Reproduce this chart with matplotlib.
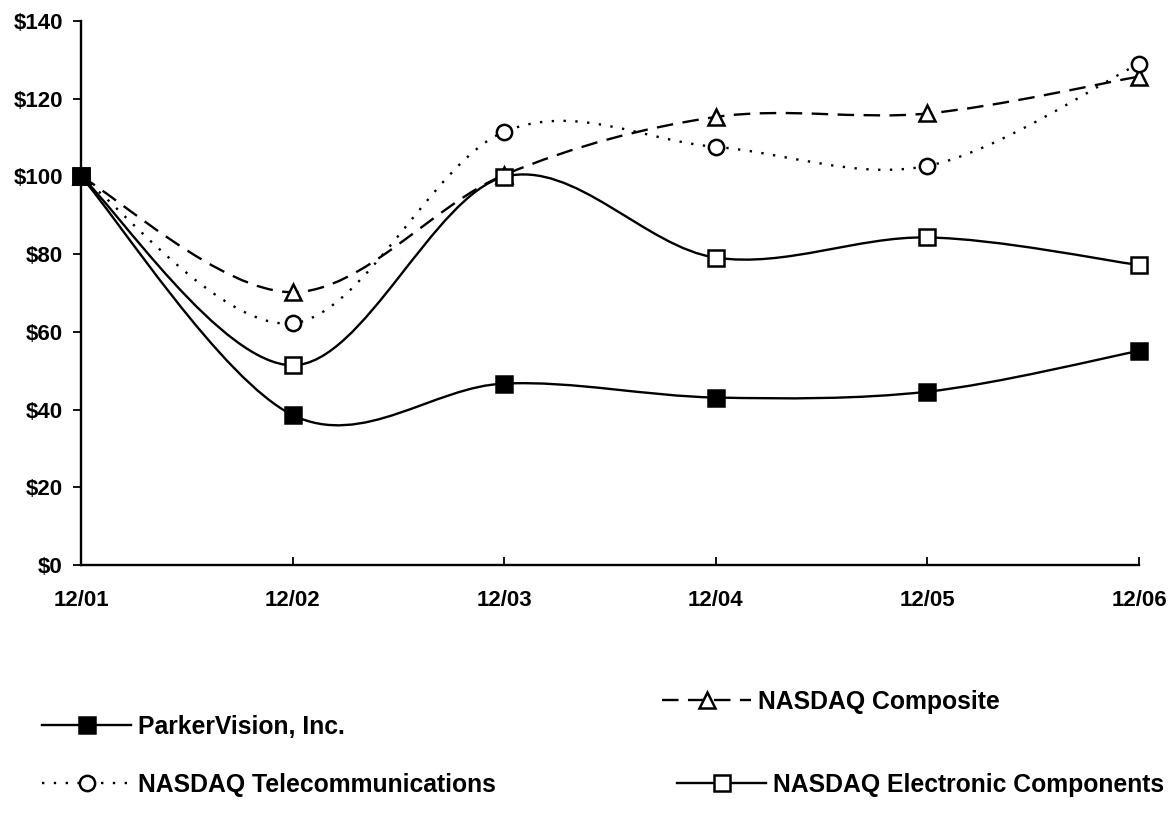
import matplotlib.pyplot as plt
from matplotlib.path import Path
from matplotlib.patches import PathPatch
from matplotlib.lines import Line2D

plt.rcParams['font.family'] = ['Liberation Sans', 'DejaVu Sans']
plt.rcParams['font.weight'] = 'bold'

dates = ['12/01', '12/02', '12/03', '12/04', '12/05', '12/06']
parkervision = [100, 38.6, 46.7, 43.1, 44.6, 55.1]
composite = [100, 70.2, 100.4, 115.3, 116.2, 125.7]
telecom = [100, 62.2, 111.5, 107.6, 102.7, 129.0]
electronic = [100, 51.4, 99.9, 79.1, 84.3, 77.2]
y_ticks = [0, 20, 40, 60, 80, 100, 120, 140]


def smooth_path(xs, ys):
    # catmull-rom -> bezier, like excel's "smoothed line"
    verts = [(xs[0], ys[0])]
    codes = [Path.MOVETO]
    n = len(xs)
    for i in range(n - 1):
        x0, y0 = (xs[i - 1], ys[i - 1]) if i > 0 else (xs[i], ys[i])
        x1, y1 = xs[i], ys[i]
        x2, y2 = xs[i + 1], ys[i + 1]
        x3, y3 = (xs[i + 2], ys[i + 2]) if i + 2 < n else (x2, y2)
        c1 = (x1 + (x2 - x0) / 6, y1 + (y2 - y0) / 6)
        c2 = (x2 - (x3 - x1) / 6, y2 - (y3 - y1) / 6)
        verts += [c1, c2, (x2, y2)]
        codes += [Path.CURVE4] * 3
    return Path(verts, codes)


fig = plt.figure(figsize=(11.71, 8.13), dpi=100)
# axes box: x 81..1139 px, y 21..565 px
ax = fig.add_axes([81 / 1171, 1 - 565 / 813, 1058 / 1171, 544 / 813])

x = list(range(len(dates)))

dash_style = (0, (7, 4))
dot_style = (0, (1, 4))

series = [
    (composite, dash_style, '^', 'white', 11, 'NASDAQ Composite'),
    (telecom, dot_style, 'o', 'white', 11, 'NASDAQ Telecommunications'),
    (electronic, '-', 's', 'white', 11, 'NASDAQ Electronic Components'),
    (parkervision, '-', 's', 'black', 12, 'ParkerVision, Inc.'),
]

handles = {}
for vals, ls, mk, fc, ms, name in series:
    patch = PathPatch(smooth_path(x, vals), fill=False, edgecolor='black',
                      linewidth=1.7, linestyle=ls, zorder=2)
    ax.add_patch(patch)
    ax.plot(x, vals, linestyle='none', marker=mk, markersize=ms,
            markerfacecolor=fc, markeredgecolor='black', markeredgewidth=1.8,
            zorder=3, clip_on=False)
    handles[name] = Line2D([], [], color='black', linewidth=1.7, linestyle=ls,
                           marker=mk, markersize=ms, markerfacecolor=fc,
                           markeredgecolor='black', markeredgewidth=1.8)

ax.set_xlim(0, 5)
ax.set_ylim(0, 140)
ax.set_xticks(x)
ax.set_xticklabels(dates)
ax.set_yticks(y_ticks)
ax.set_yticklabels(['$' + str(v) for v in y_ticks])

for s in ['top', 'right']:
    ax.spines[s].set_visible(False)
for s in ['left', 'bottom']:
    ax.spines[s].set_linewidth(1.7)

ax.tick_params(axis='y', direction='out', length=6, width=1.3, labelsize=16, pad=7)
ax.tick_params(axis='x', direction='in', length=6, width=1.3, labelsize=16, pad=18)

# legend entries, placed one by one like the original
legend_pos = {
    'ParkerVision, Inc.': (42 / 1171, 1 - 727 / 813),
    'NASDAQ Composite': (662 / 1171, 1 - 702 / 813),
    'NASDAQ Telecommunications': (42 / 1171, 1 - 785 / 813),
    'NASDAQ Electronic Components': (677 / 1171, 1 - 785 / 813),
}
for name, pos in legend_pos.items():
    fig.legend(handles=[handles[name]], labels=[name], loc='center left',
               bbox_to_anchor=pos, frameon=False, borderpad=0,
               borderaxespad=0, handlelength=3.6, handletextpad=0.3,
               prop={'size': 17.8, 'weight': 'bold'})

fig.savefig('out.png', dpi=100)
